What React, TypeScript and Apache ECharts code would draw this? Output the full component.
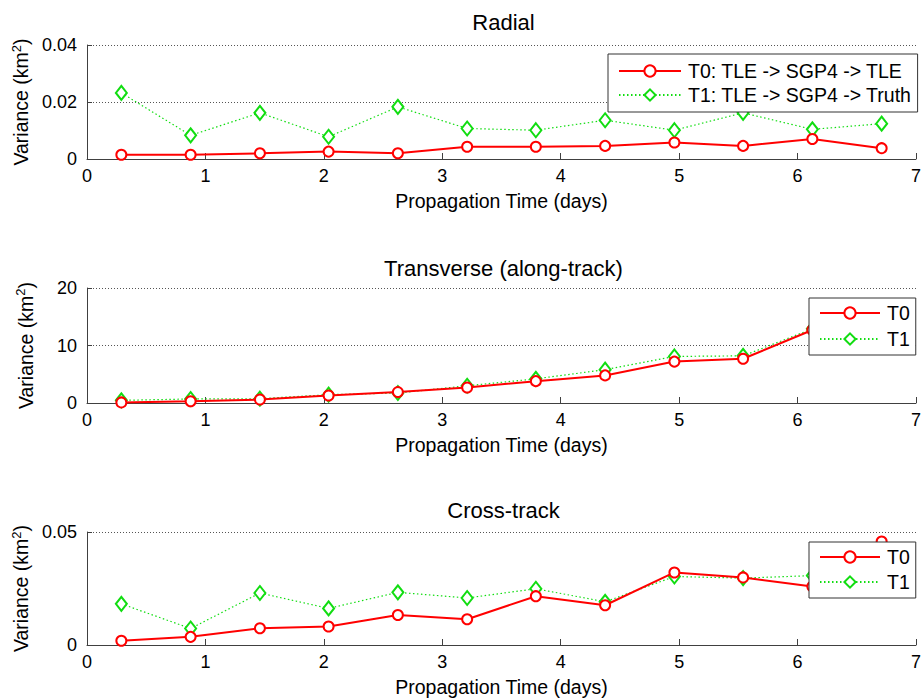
import React, { useEffect, useRef } from "react";
import * as echarts from "echarts";

const X = [0.29, 0.875, 1.46, 2.04, 2.625, 3.21, 3.79, 4.375, 4.96, 5.54, 6.125, 6.71];
const radialT0 = [0.0015, 0.0015, 0.002, 0.0026, 0.002, 0.0043, 0.0043, 0.0046, 0.0058, 0.0046, 0.007, 0.0038];
const radialT1 = [0.0232, 0.0083, 0.0162, 0.0078, 0.0183, 0.0107, 0.0101, 0.0136, 0.0101, 0.0162, 0.0104, 0.0124];
const transT0 = [0.1, 0.3, 0.6, 1.3, 1.9, 2.7, 3.8, 4.8, 7.2, 7.7, 12.7, 16];
const transT1 = [0.46, 0.7, 0.75, 1.45, 1.74, 3.0, 4.2, 5.8, 8.1, 8.2, 12.9, 16.3];
const crossT0 = [0.0019, 0.0036, 0.0074, 0.0082, 0.0133, 0.0114, 0.0216, 0.0176, 0.0321, 0.0299, 0.0259, 0.0458];
const crossT1 = [0.0182, 0.0073, 0.023, 0.0162, 0.0233, 0.0208, 0.0249, 0.0191, 0.0303, 0.0296, 0.0307, 0.030];

const titles = ["Radial", "Transverse (along-track)", "Cross-track"];
const yRanges = [
  { max: 0.04, interval: 0.02 },
  { max: 20, interval: 10 },
  { max: 0.05, interval: 0.05 },
];
const legendTopNames = ["T0: TLE -> SGP4 -> TLE", "T1: TLE -> SGP4 -> Truth"];
const legendShortNames = ["T0", "T1"];
const xLabel = "Propagation Time (days)";

const FONT = "Liberation Sans";
const RED = "#ff0000";
const GREEN = "#11dd11";

const gridTops = [45, 288, 532];
const gridHeights = [114, 115, 114];
const titleYs = [22, 268, 510];

const pairs = (xs: number[], ys: number[]) => xs.map((x, i) => [x, ys[i]]);

export default function App() {
  const ref = useRef<HTMLDivElement>(null);
  useEffect(() => {
    if (!ref.current) return;
    const chart = echarts.init(ref.current, null, { renderer: "svg" });
    const data = [
      [radialT0, radialT1],
      [transT0, transT1],
      [crossT0, crossT1],
    ];
    const names = [legendTopNames, legendShortNames, legendShortNames];

    const grids = gridTops.map((t, i) => ({ left: 87, right: 4, top: t, height: gridHeights[i] }));
    const xAxes = gridTops.map((_, i) => ({
      type: "value",
      gridIndex: i,
      min: 0,
      max: 7,
      interval: 1,
      name: xLabel,
      nameLocation: "middle",
      nameGap: 32,
      nameTextStyle: { fontFamily: FONT, fontSize: 19.5, color: "#000" },
      axisLine: { show: true, onZero: false, lineStyle: { color: "#404040", width: 1 } },
      axisTick: { show: true, inside: true, length: 6, lineStyle: { color: "#404040" } },
      axisLabel: { fontFamily: FONT, fontSize: 18, color: "#000", margin: 8 },
      splitLine: { show: false },
    }));
    const yAxes = gridTops.map((_, i) => ({
      type: "value",
      gridIndex: i,
      min: 0,
      max: yRanges[i].max,
      interval: yRanges[i].interval,
      name: "Variance (km{sup|2})",
      nameLocation: "middle",
      nameGap: 50,
      nameRotate: 90,
      nameTextStyle: {
        fontFamily: FONT,
        fontSize: 19.5,
        color: "#000",
        rich: { sup: { fontFamily: FONT, fontSize: 13, color: "#000", padding: [0, 0, 10, 0] } },
      },
      axisLine: { show: true, lineStyle: { color: "#404040", width: 1 } },
      axisTick: { show: true, inside: true, length: 5, lineStyle: { color: "#404040" } },
      axisLabel: { fontFamily: FONT, fontSize: 18, color: "#000", margin: 10 },
      splitLine: { show: true, lineStyle: { color: "#555", type: [1, 2], width: 1 } },
    }));

    const series: any[] = [];
    for (let i = 0; i < 3; i++) {
      series.push({
        type: "line",
        name: names[i][0],
        xAxisIndex: i,
        yAxisIndex: i,
        data: pairs(X, data[i][0]),
        symbol: "emptyCircle",
        symbolSize: 10,
        lineStyle: { color: RED, width: 2 },
        itemStyle: { color: RED, borderWidth: 1.5 },
        z: 3,
      });
      series.push({
        type: "line",
        name: names[i][1],
        xAxisIndex: i,
        yAxisIndex: i,
        data: pairs(X, data[i][1]),
        symbol: "emptyDiamond",
        symbolSize: [11, 14],
        lineStyle: { color: GREEN, width: 1.2, type: [1.5, 2.5] },
        itemStyle: { color: GREEN, borderWidth: 2 },
        z: 2,
      });
    }

    const legendCommon = {
      orient: "vertical",
      backgroundColor: "#fff",
      borderColor: "#333",
      borderWidth: 1,
      itemHeight: 14,
      textStyle: { fontFamily: FONT, fontSize: 19.5, color: "#000", lineHeight: 20, padding: [0, 0, 0, 2] },
      selectedMode: false,
      z: 10,
    };
    const legends = [
      { ...legendCommon, data: legendTopNames, left: 608, top: 54, itemWidth: 62, itemGap: 4, padding: [7, 6, 7, 10] },
      { ...legendCommon, data: legendShortNames, left: 809, top: 298, itemWidth: 60, itemGap: 6, padding: [5, 6, 6, 10] },
      { ...legendCommon, data: legendShortNames, left: 809, top: 542, itemWidth: 60, itemGap: 5, padding: [5, 6, 6, 10] },
    ];

    const graphic = titles.map((t, i) => ({
      type: "text",
      x: 503.5,
      y: titleYs[i],
      style: {
        text: t,
        fontFamily: FONT,
        fontSize: 22,
        fill: "#000",
        textAlign: "center",
        textVerticalAlign: "middle",
      },
    }));

    chart.setOption({
      animation: false,
      backgroundColor: "#fff",
      grid: grids,
      xAxis: xAxes,
      yAxis: yAxes,
      series,
      legend: legends,
      graphic,
    } as any);
    return () => chart.dispose();
  }, []);
  return (
    <div
      ref={ref}
      style={{ position: "fixed", left: 0, top: 0, width: 924, height: 698, background: "#fff" }}
    />
  );
}
